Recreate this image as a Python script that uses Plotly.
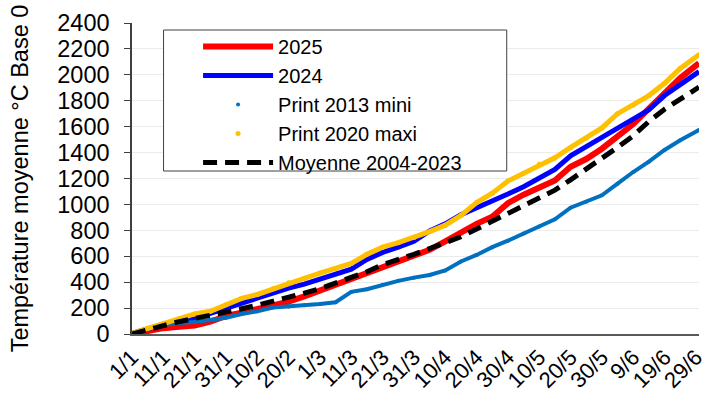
import plotly.graph_objects as go

# day index from 1 January (2024 calendar, leap year)
days = [0, 5, 10, 15, 20, 25, 30, 35, 40, 45, 50, 55, 60, 65, 70, 75, 80, 85, 90,
        95, 100, 105, 110, 115, 120, 125, 130, 135, 140, 145, 150, 155, 160, 165,
        170, 175, 181]

s2025 = [0, 25, 45, 55, 65, 95, 140, 165, 190, 220, 250, 290, 335, 375, 420, 465,
         510, 550, 595, 650, 715, 785, 850, 905, 1010, 1075, 1125, 1185, 1290,
         1350, 1430, 1520, 1620, 1740, 1850, 1975, 2090]

s2024 = [5, 45, 75, 100, 120, 160, 200, 232, 270, 310, 355, 385, 425, 460, 500,
         575, 630, 670, 715, 795, 850, 920, 970, 1021, 1080, 1137, 1200, 1270,
         1375, 1445, 1520, 1580, 1650, 1730, 1840, 1925, 2025]

s2013_mini = [0, 40, 70, 85, 92, 105, 125, 154, 175, 205, 213, 222, 232, 245, 325,
              345, 380, 410, 435, 455, 490, 560, 610, 670, 720, 775, 830, 885, 975,
              1020, 1070, 1160, 1250, 1330, 1420, 1495, 1575]

s2020_maxi = [5, 45, 80, 120, 155, 175, 225, 275, 305, 350, 395, 430, 470, 505,
              545, 615, 670, 705, 745, 790, 840, 915, 1015, 1086, 1180, 1240, 1310,
              1360, 1440, 1510, 1590, 1700, 1765, 1840, 1935, 2050, 2155]

moyenne = [0, 35, 65, 95, 120, 137, 165, 195, 222, 250, 280, 315, 350, 390, 435,
           480, 535, 570, 615, 660, 700, 750, 810, 870, 930, 985, 1050, 1110, 1190,
           1270, 1360, 1440, 1530, 1640, 1735, 1815, 1905]

tick_days = list(range(0, 181, 10))
tick_labels = ["1/1", "11/1", "21/1", "31/1", "10/2", "20/2", "1/3", "11/3", "21/3",
               "31/3", "10/4", "20/4", "30/4", "10/5", "20/5", "30/5", "9/6", "19/6",
               "29/6"]
mark_days = list(range(0, 181, 7)) + [181]

FONT = "Liberation Sans, Arial, sans-serif"

fig = go.Figure()
fig.add_trace(go.Scatter(x=days, y=s2025, name="2025", mode="lines",
                         line=dict(color="#FF0000", width=6)))
fig.add_trace(go.Scatter(x=days, y=s2024, name="2024", mode="lines",
                         line=dict(color="#0000FF", width=5)))
fig.add_trace(go.Scatter(x=days, y=s2013_mini, name="Print 2013 mini", mode="lines",
                         line=dict(color="#0070C0", width=4), showlegend=False))
fig.add_trace(go.Scatter(x=days, y=s2013_mini, name="Print 2013 mini", mode="markers",
                         marker=dict(color="#0070C0", size=4)))
fig.add_trace(go.Scatter(x=days, y=s2020_maxi, name="Print 2020 maxi", mode="lines",
                         line=dict(color="#FFC000", width=5), showlegend=False))
fig.add_trace(go.Scatter(x=days, y=s2020_maxi, name="Print 2020 maxi", mode="markers",
                         marker=dict(color="#FFC000", size=5)))
fig.add_trace(go.Scatter(x=days, y=moyenne, name="Moyenne 2004-2023", mode="lines",
                         line=dict(color="#000000", width=5, dash="14px,8px")))

# legend frame (decoration, in paper coordinates)
fig.add_shape(type="rect", xref="paper", yref="paper",
              x0=(164 - 132) / 575, x1=(512 - 132) / 575,
              y0=(334 - 171) / 311, y1=(334 - 30) / 311,
              line=dict(color="#404040", width=1), fillcolor="white", layer="above")

fig.update_layout(
    width=707, height=401,
    margin=dict(l=132, r=0, t=23, b=67),
    paper_bgcolor="white", plot_bgcolor="white",
    font=dict(family=FONT, size=22, color="#000000"),
    showlegend=True,
    legend=dict(x=(199 - 132) / 575, y=(334 - 27) / 311, xanchor="left", yanchor="top",
                bgcolor="rgba(0,0,0,0)", borderwidth=0,
                font=dict(size=20), itemwidth=70, tracegroupgap=0,
                traceorder="normal"),
    xaxis=dict(range=[0, 181], tickmode="array", tickvals=tick_days,
               ticktext=tick_labels, tickangle=-45, ticks="", showgrid=False,
               showline=True, linecolor="#595959", linewidth=1.5, zeroline=False,
               tickfont=dict(size=22), ticklabeloverflow="allow"),
    xaxis2=dict(range=[0, 181], overlaying="x", anchor="y", side="bottom",
                tickmode="array", tickvals=mark_days, ticks="outside", ticklen=6,
                tickcolor="#595959", tickwidth=1.5, showticklabels=False,
                showgrid=False, showline=False, zeroline=False),
    yaxis=dict(range=[0, 2400], dtick=200, ticks="outside", ticklen=6,
               tickcolor="#404040", showline=True, linecolor="#404040",
               linewidth=1.5, gridcolor="#EBEBEB", gridwidth=1, zeroline=False,
               tickfont=dict(size=23.5), ticklabelstandoff=10,
               title=dict(text="Température moyenne °C Base 0\u00a0\u00a0", standoff=22,
                          font=dict(size=23.5))),
)

fig.write_html("out.html",
               config={"displayModeBar": False},
               post_script="document.body.style.margin='0';"
                           "document.body.style.overflow='hidden';")
